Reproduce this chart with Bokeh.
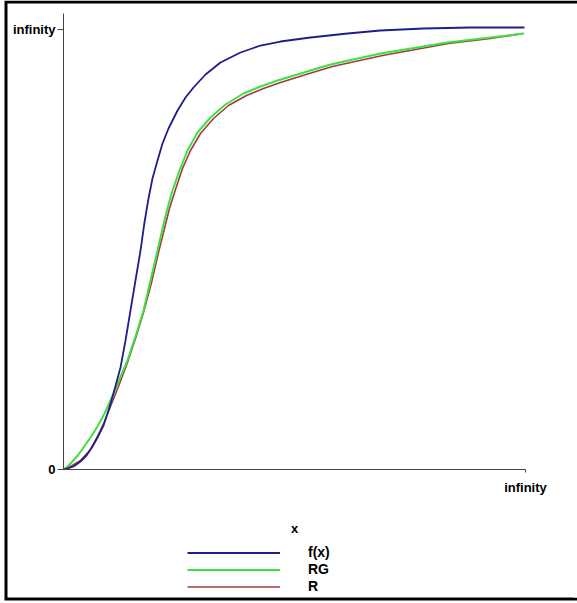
from bokeh.plotting import figure
from bokeh.models import Range1d, FixedTicker, Legend, LegendItem
from bokeh.embed import file_html
from bokeh.resources import INLINE

# f(x) curve
x_f = [0.0, 0.0087, 0.0216, 0.0368, 0.0498, 0.0628, 0.0736, 0.0866, 0.0974, 0.1082,
       0.1169, 0.1234, 0.1342, 0.1450, 0.1558, 0.1667, 0.1753, 0.1840, 0.1926, 0.2035,
       0.2143, 0.2273, 0.2468, 0.2641, 0.2814, 0.3074, 0.3398, 0.3831, 0.4264, 0.4697,
       0.5346, 0.6147, 0.6861, 0.7792, 0.8810, 0.9978]
y_f = [0.0, 0.0023, 0.0068, 0.0182, 0.0318, 0.0523, 0.0727, 0.1000, 0.1341, 0.1727,
       0.2068, 0.2318, 0.2932, 0.3614, 0.4295, 0.4977, 0.5614, 0.6159, 0.6614, 0.7023,
       0.7409, 0.7750, 0.8159, 0.8455, 0.8682, 0.8977, 0.9250, 0.9477, 0.9636, 0.9727,
       0.9818, 0.9909, 0.9977, 1.0023, 1.0045, 1.0045]
# RG curve
x_rg = [0.0, 0.0087, 0.0195, 0.0325, 0.0433, 0.0584, 0.0736, 0.0887, 0.1017, 0.1190,
        0.1385, 0.1558, 0.1732, 0.1883, 0.2035, 0.2143, 0.2251, 0.2359, 0.2511, 0.2684,
        0.2900, 0.3182, 0.3506, 0.3896, 0.4264, 0.4632, 0.5346, 0.5779, 0.6861, 0.8312,
        0.9242, 0.9957]
y_rg = [0.0, 0.0068, 0.0182, 0.0341, 0.0500, 0.0727, 0.0977, 0.1273, 0.1568, 0.2000,
        0.2477, 0.3023, 0.3614, 0.4295, 0.4977, 0.5477, 0.5932, 0.6341, 0.6795, 0.7250,
        0.7659, 0.8000, 0.8295, 0.8545, 0.8705, 0.8841, 0.9068, 0.9205, 0.9455, 0.9705,
        0.9818, 0.9909]
# R curve
x_r = [0.0, 0.0152, 0.0368, 0.0584, 0.0736, 0.0887, 0.1017, 0.1190, 0.1385, 0.1558,
       0.1732, 0.1905, 0.2056, 0.2186, 0.2294, 0.2424, 0.2576, 0.2749, 0.2965, 0.3247,
       0.3571, 0.3961, 0.4329, 0.4697, 0.5390, 0.5823, 0.6905, 0.8333, 0.9242, 0.9957]
y_r = [0.0, 0.0068, 0.0205, 0.0455, 0.0750, 0.1091, 0.1432, 0.1886, 0.2432, 0.2977,
       0.3568, 0.4250, 0.4932, 0.5477, 0.5932, 0.6364, 0.6841, 0.7250, 0.7636, 0.7977,
       0.8273, 0.8500, 0.8659, 0.8795, 0.9023, 0.9159, 0.9409, 0.9682, 0.9795, 0.9909]

y_ticks = [0, 1]
y_tick_labels = ["0", "infinity"]
x_ticks = [1]
x_tick_labels = ["infinity"]
series_labels = ["f(x)", "RG", "R"]

FONT = "Liberation Sans"
W, H = 577, 603
# pixel placement of the data box inside the canvas
X0, X1 = 63, 525
Y0, Y1 = 469, 29
sx = (X1 - X0)
sy = (Y0 - Y1)


def to_x(px):
    return (px - X0) / sx


def to_y(py):
    return (Y0 - py) / sy


p = figure(width=W, height=H, output_backend="svg", toolbar_location=None,
           x_range=Range1d(to_x(0), to_x(W)),
           y_range=Range1d(to_y(H), to_y(0)),
           min_border=0, min_border_left=0, min_border_right=0,
           min_border_top=0, min_border_bottom=0)
p.outline_line_color = None
p.grid.visible = False
p.background_fill_color = "white"
p.border_fill_color = "white"

# picture frame (left, top and bottom edges of the framed image)
frame_px = [(W + 20, 1.5), (5.5, 1.5), (5.5, 598.5), (W + 20, 598.5)]
p.line([to_x(a) for a, b in frame_px], [to_y(b) for a, b in frame_px],
       line_color="black", line_width=3, line_join="miter")

r_red = p.line(x_r, y_r, line_color="#a03c3c", line_width=1.6)
r_green = p.line(x_rg, y_rg, line_color="#3fe03f", line_width=2)
r_blue = p.line(x_f, y_f, line_color="#1e1e8c", line_width=1.8)

# keep the right edge of the image blank (the framed image has no right edge)
mask_px = [(W - 1.5, 4), (W - 1.5, H - 6)]
mask = p.line([to_x(a) for a, b in mask_px], [to_y(b) for a, b in mask_px],
              line_color="white", line_width=6)
mask.level = "overlay"

# axes fixed at the origin
p.yaxis.fixed_location = 0
p.xaxis.fixed_location = 0
p.yaxis.bounds = (0, to_y(13))
p.xaxis.bounds = (0, 1)
p.yaxis.ticker = FixedTicker(ticks=y_ticks)
p.yaxis.major_label_overrides = {t: l for t, l in zip(y_ticks, y_tick_labels)}
p.xaxis.ticker = FixedTicker(ticks=x_ticks)
p.xaxis.major_label_overrides = {t: l for t, l in zip(x_ticks, x_tick_labels)}
for ax in (p.xaxis, p.yaxis):
    ax.minor_tick_line_color = None
    ax.axis_line_color = "#444444"
    ax.major_tick_line_color = "#444444"
    ax.major_label_text_font = FONT
    ax.major_label_text_font_style = "bold"
    ax.major_label_text_font_size = "13px"
    ax.major_label_text_color = "black"
    ax.major_tick_in = 0
p.yaxis.major_tick_out = 6
p.yaxis.major_label_standoff = 2
p.xaxis.major_tick_out = 3
p.xaxis.major_label_standoff = 7
p.xaxis.axis_label = "x"
p.xaxis.axis_label_text_font = FONT
p.xaxis.axis_label_text_font_style = "bold"
p.xaxis.axis_label_text_font_size = "13px"
p.xaxis.axis_label_text_color = "black"
p.xaxis.axis_label_standoff = 23

legend = Legend(items=[LegendItem(label=series_labels[0], renderers=[r_blue]),
                       LegendItem(label=series_labels[1], renderers=[r_green]),
                       LegendItem(label=series_labels[2], renderers=[r_red])],
                location=(187, 9))
legend.glyph_width = 93
legend.glyph_height = 15
legend.label_height = 15
legend.spacing = 1
legend.padding = 0
legend.margin = 0
legend.label_standoff = 28
legend.border_line_color = None
legend.background_fill_alpha = 0
legend.label_text_font = FONT
legend.label_text_font_style = "bold"
legend.label_text_font_size = "14px"
legend.label_text_color = "black"
p.add_layout(legend, "center")

open("out.html", "w").write(file_html(p, INLINE))
